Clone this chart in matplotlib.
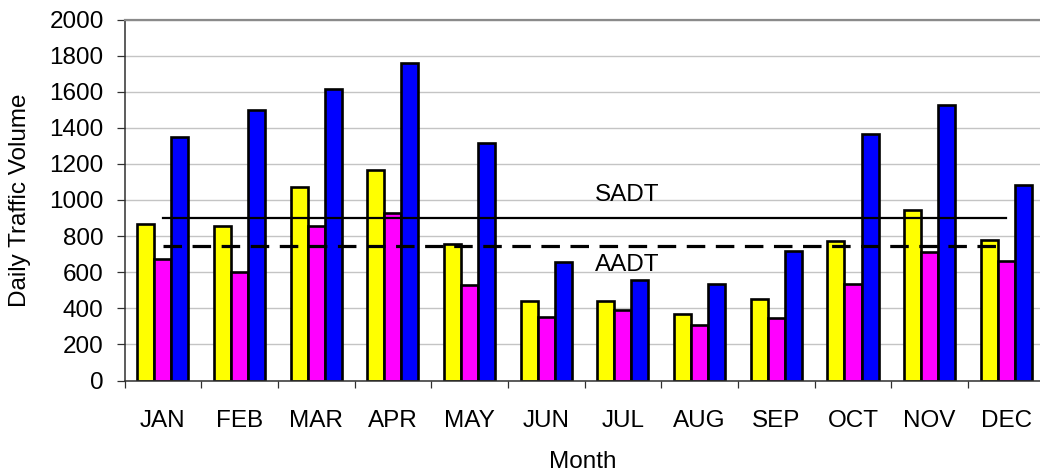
import numpy as np
import matplotlib.pyplot as plt

plt.rcParams['font.family'] = ['Liberation Sans', 'DejaVu Sans']

months = ["JAN", "FEB", "MAR", "APR", "MAY", "JUN", "JUL", "AUG", "SEP", "OCT", "NOV", "DEC"]
yellow_vals = [865, 858, 1072, 1164, 754, 439, 440, 370, 451, 773, 945, 780]
magenta_vals = [673, 603, 854, 926, 529, 350, 392, 306, 345, 533, 710, 660]
blue_vals = [1351, 1499, 1613, 1757, 1316, 658, 555, 533, 717, 1364, 1526, 1085]
sadt = 902
aadt = 743

W, H = 1040, 476
fig = plt.figure(figsize=(W / 100, H / 100), dpi=100)
# plot area runs a bit past the right edge, like the original screenshot
ax = fig.add_axes([124.5 / W, (H - 380.5) / H, (1044.7 - 124.5) / W, (380.5 - 19.5) / H])

x = np.arange(len(months))
bw = 0.222
ax.bar(x - bw, yellow_vals, bw, color='#FFFF00', edgecolor='black', linewidth=1.9, zorder=2)
ax.bar(x, magenta_vals, bw, color='#FF00FF', edgecolor='black', linewidth=1.9, zorder=2)
ax.bar(x + bw, blue_vals, bw, color='#0000FF', edgecolor='black', linewidth=1.9, zorder=2)

ax.plot([0, 11], [sadt, sadt], color='black', linewidth=1.6, zorder=3)
ax.plot([0, 11], [aadt, aadt], color='black', linewidth=2.3, zorder=3,
        dashes=(5.8, 3.3), solid_capstyle='butt', dash_capstyle='butt')

ax.text(5.64, 1028, "SADT", fontsize=17.5, ha='left', va='center', zorder=4)
ax.text(5.64, 640, "AADT", fontsize=17.5, ha='left', va='center', zorder=4)

ax.set_xlim(-0.5, 11.5)
ax.set_ylim(0, 2000)
ax.set_yticks(np.arange(0, 2001, 200))
ax.yaxis.grid(True, color='#c4c4c4', linewidth=1.0, zorder=0)
ax.set_axisbelow(True)

ax.set_xticks(np.arange(-0.5, 12, 1))
ax.set_xticklabels([])
ax.set_xticks(x, minor=True)
ax.set_xticklabels(months, minor=True, fontsize=17.5)
ax.tick_params(axis='x', which='major', direction='out', length=5, width=0.9, color='#303030')
ax.tick_params(axis='x', which='minor', length=0, pad=21)
ax.tick_params(axis='y', direction='out', length=6, width=0.9, color='#303030', pad=9, labelsize=17.5)

ax.spines['right'].set_visible(False)
ax.spines['top'].set_color('#8a8a8a')
ax.spines['top'].set_linewidth(1.6)
ax.spines['left'].set_color('#303030')
ax.spines['left'].set_linewidth(1.1)
ax.spines['bottom'].set_color('#303030')
ax.spines['bottom'].set_linewidth(1.1)

fig.text(20 / W, (H - 200) / H, "Daily Traffic Volume", rotation=90, fontsize=17.5,
         ha='center', va='center')
fig.text(583 / W, (H - 462) / H, "Month", fontsize=17.5, ha='center', va='center')

fig.savefig('out.png', dpi=100)
